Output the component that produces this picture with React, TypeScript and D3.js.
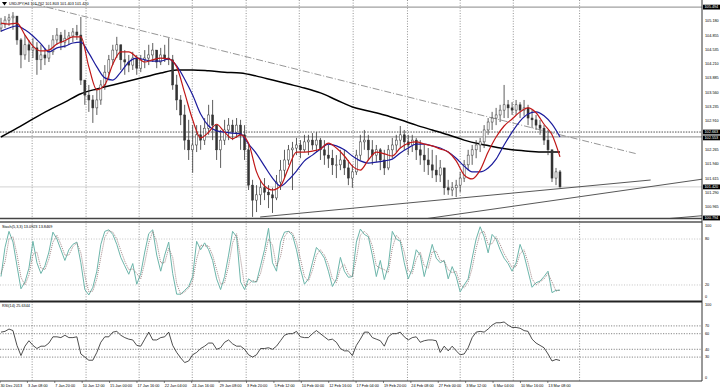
import * as d3 from 'd3'

// H4 bars, open of each bar = close of the bar before
const firstOpen = 105.02
const highs = [
  105.25, 105.29, 105.34, 105.38, 105.2, 104.79, 104.86, 104.75, 104.79, 104.7,
  104.64, 104.57, 104.64, 104.86, 105.02, 104.93, 104.98, 104.93, 105.02, 105.09,
  105.27, 103.84, 103.73, 103.5, 103.62, 103.84, 104.18, 104.41, 104.64, 104.82,
  104.64, 104.52, 104.41, 104.48, 104.41, 104.41, 104.52, 104.64, 104.68, 104.52,
  104.57, 104.64, 104.79, 104.41, 103.96, 103.5, 103.28, 102.94, 102.82, 102.82,
  102.82, 102.98, 103.28, 103.39, 102.82, 102.71, 102.94, 102.98, 102.94, 102.98,
  102.94, 102.82, 102.37, 101.58, 101.46, 101.58, 101.62, 101.46, 101.4, 101.69,
  102.03, 102.26, 102.37, 102.44, 102.53, 102.48, 102.6, 102.6, 102.64, 102.66,
  102.53, 102.48, 102.37, 102.26, 102.14, 102.26, 102.26, 102.03, 101.92, 102.26,
  102.6, 102.71, 102.6, 102.48, 102.37, 102.3, 102.26, 102.37, 102.53, 102.6,
  102.8, 102.71, 102.6, 102.6, 102.53, 102.48, 102.37, 102.3, 102.26, 102.14,
  102.03, 101.76, 101.58, 101.53, 101.58, 101.76, 102.03, 102.26, 102.37, 102.48,
  102.53, 102.82, 102.98, 103.12, 103.21, 103.28, 103.73, 103.39, 103.34, 103.39,
  103.34, 103.39, 103.28, 103.16, 103.05, 102.94, 102.82, 102.71, 102.26, 101.85,
  101.803,
]
const lows = [
  104.93, 105.02, 105.07, 104.98, 104.64, 104.11, 104.3, 104.25, 104.34, 103.96,
  104.07, 104.18, 104.25, 104.41, 104.64, 104.52, 104.57, 104.64, 104.7, 104.75,
  103.73, 103.28, 103.12, 102.87, 103.05, 103.28, 103.62, 103.84, 104.18, 104.34,
  104.07, 103.96, 104.02, 104.07, 103.96, 104.02, 104.11, 104.18, 104.25, 104.11,
  104.18, 104.25, 104.18, 103.62, 103.16, 102.82, 102.26, 102.03, 101.74, 102.21,
  102.26, 102.37, 102.6, 102.48, 102.03, 101.85, 102.37, 102.48, 102.48, 102.53,
  102.26, 102.03, 101.35, 100.74, 100.85, 101.01, 101.12, 100.94, 100.83, 101.12,
  101.35, 101.62, 101.92, 101.35, 102.14, 102.07, 102.21, 102.14, 102.26, 102.21,
  102.03, 101.92, 101.85, 101.69, 101.62, 101.8, 101.69, 101.46, 101.4, 101.69,
  102.03, 102.26, 102.03, 101.92, 101.98, 101.8, 101.69, 101.8, 102.07, 102.21,
  102.3, 102.26, 102.14, 102.21, 102.03, 101.92, 101.76, 101.69, 101.62, 101.53,
  101.53, 101.24, 101.24, 101.21, 101.19, 101.3, 101.53, 101.8, 101.92, 102.07,
  102.21, 102.3, 102.6, 102.71, 102.82, 102.89, 102.98, 102.98, 103.05, 103.05,
  102.98, 103.03, 102.82, 102.75, 102.71, 102.6, 102.37, 102.14, 101.53, 101.46,
  101.403,
]
const closes = [
  105.11, 105.2, 105.25, 105.29, 104.75, 104.41, 104.64, 104.52, 104.57, 104.3,
  104.41, 104.34, 104.48, 104.75, 104.86, 104.7, 104.79, 104.84, 104.93, 104.86,
  103.84, 103.5, 103.39, 103.21, 103.39, 103.73, 104.02, 104.3, 104.52, 104.64,
  104.3, 104.25, 104.18, 104.34, 104.11, 104.3, 104.34, 104.41, 104.52, 104.25,
  104.41, 104.34, 104.3, 103.73, 103.39, 103.05, 102.48, 102.26, 102.37, 102.6,
  102.48, 102.75, 103.05, 102.82, 102.26, 102.48, 102.71, 102.82, 102.66, 102.82,
  102.6, 102.26, 101.46, 101.12, 101.24, 101.4, 101.3, 101.24, 101.17, 101.53,
  101.8, 102.03, 102.26, 102.3, 102.37, 102.26, 102.44, 102.48, 102.37, 102.48,
  102.26, 102.14, 102.07, 101.92, 101.92, 102.03, 101.85, 101.62, 101.76, 102.14,
  102.44, 102.48, 102.26, 102.14, 102.26, 102.03, 101.85, 102.26, 102.37, 102.48,
  102.6, 102.44, 102.37, 102.48, 102.26, 102.14, 102.03, 101.92, 101.8, 101.69,
  101.85, 101.4, 101.35, 101.4, 101.46, 101.62, 101.92, 102.14, 102.26, 102.37,
  102.44, 102.71, 102.89, 102.98, 103.05, 103.16, 103.28, 103.21, 103.16, 103.28,
  103.16, 103.21, 102.98, 102.94, 102.82, 102.75, 102.48, 102.26, 101.62, 101.76,
  101.42,
]

// moving averages, one value every 2nd bar (fast, mid) and every 4th bar (slow)
const fastMa = [
  105.13, 105.11, 105.13, 104.86, 104.61, 104.5, 104.52, 104.66, 104.73, 104.82,
  104.82, 104.14, 103.62, 103.73, 104.2, 104.48, 104.48, 104.36, 104.25, 104.3,
  104.34, 104.32, 104.14, 103.55, 102.94, 102.53, 102.66, 102.84, 102.66, 102.51,
  102.6, 102.41, 101.76, 101.44, 101.35, 101.44, 101.85, 102.21, 102.21, 102.23,
  102.28, 102.41, 102.3, 102.12, 101.89, 101.8, 102.03, 102.21, 102.17, 102.12,
  102.3, 102.41, 102.44, 102.39, 102.35, 102.28, 102.21, 102.01, 101.69, 101.6,
  101.8, 102.21, 102.55, 102.8, 102.96, 103.12, 103.21, 103.1, 102.84, 102.6,
  102.1,
]
const midMa = [
  104.95, 105.02, 105.07, 104.98, 104.84, 104.66, 104.48, 104.57, 104.61, 104.68,
  104.7, 104.45, 104.14, 103.89, 103.84, 104.02, 104.25, 104.34, 104.3, 104.27,
  104.27, 104.32, 104.16, 103.86, 103.5, 103.07, 102.8, 102.69, 102.66, 102.64,
  102.62, 102.39, 102.17, 101.89, 101.62, 101.44, 101.58, 101.78, 102.01, 102.14,
  102.28, 102.39, 102.35, 102.26, 102.12, 102.01, 101.96, 101.98, 102.01, 102.05,
  102.19, 102.3, 102.39, 102.39, 102.35, 102.3, 102.21, 102.07, 101.89, 101.76,
  101.76, 101.85, 102.05, 102.37, 102.66, 102.91, 103.07, 103.12, 103.03, 102.84,
  102.55,
]
const slowMa = [
  102.55, 102.75, 102.96, 103.16, 103.34, 103.53, 103.64, 103.73, 103.82, 103.91,
  104.0, 104.07, 104.07, 104.05, 104.02, 104.0, 103.93, 103.84, 103.75, 103.66,
  103.55, 103.39, 103.23, 103.14, 103.05, 102.94, 102.82, 102.71, 102.6, 102.48,
  102.39, 102.32, 102.26, 102.23, 102.21, 102.21,
]

const stochMain = [
  31, 69, 90, 76, 45, 15, 24, 42, 77, 49, 35, 45, 63, 89, 80, 66, 52, 66, 73, 76,
  49, 14, 7, 17, 38, 73, 90, 92, 86, 73, 56, 45, 34, 48, 21, 35, 63, 87, 92, 59,
  38, 59, 76, 35, 8, 8, 13, 18, 31, 77, 66, 75, 66, 52, 28, 14, 31, 59, 90, 83,
  24, 14, 28, 24, 24, 45, 66, 94, 49, 38, 76, 89, 90, 85, 66, 41, 21, 28, 49, 69,
  63, 55, 38, 18, 28, 56, 38, 30, 31, 76, 93, 86, 83, 59, 31, 52, 27, 45, 90, 80,
  77, 49, 28, 41, 66, 59, 31, 52, 73, 55, 49, 52, 28, 44, 31, 11, 20, 28, 55, 80,
  96, 83, 62, 86, 80, 66, 55, 48, 38, 49, 73, 59, 38, 17, 23, 25, 31, 38, 10, 13,
  13.09,
]
const stochSignal = [
  35, 50, 80, 83, 60, 30, 20, 33, 60, 63, 42, 40, 54, 76, 85, 73, 59, 59, 70, 75,
  62, 32, 11, 12, 28, 56, 82, 91, 89, 80, 65, 51, 40, 41, 35, 28, 49, 75, 90, 76,
  49, 49, 68, 56, 22, 8, 11, 16, 25, 54, 72, 71, 71, 59, 40, 21, 23, 45, 75, 87,
  54, 19, 21, 26, 24, 35, 56, 80, 72, 44, 57, 83, 90, 88, 76, 54, 31, 25, 39, 59,
  66, 59, 47, 28, 23, 42, 47, 34, 31, 54, 85, 90, 85, 71, 45, 42, 40, 36, 68, 85,
  79, 63, 39, 35, 54, 63, 45, 42, 63, 64, 52, 51, 40, 36, 38, 21, 16, 24, 42, 68,
  88, 90, 73, 74, 83, 73, 61, 52, 43, 44, 61, 66, 49, 28, 20, 24, 28, 35, 24, 12,
  13.85,
]
const rsiValues = [
  62, 63, 66, 64, 45, 32, 44, 51, 45, 41, 44, 44, 48, 56, 56, 55, 58, 55, 55, 56,
  34, 30, 26, 26, 36, 49, 56, 56, 62, 63, 58, 55, 53, 52, 45, 44, 53, 62, 52, 52,
  55, 56, 62, 45, 36, 29, 23, 25, 33, 36, 41, 44, 48, 48, 40, 42, 49, 52, 47, 44,
  44, 40, 33, 30, 33, 41, 41, 42, 40, 44, 51, 58, 60, 60, 63, 56, 55, 55, 60, 64,
  60, 56, 52, 53, 49, 41, 38, 38, 32, 45, 53, 62, 62, 55, 53, 51, 44, 56, 60, 60,
  62, 56, 52, 55, 56, 49, 51, 52, 52, 51, 36, 44, 38, 44, 38, 33, 34, 42, 55, 62,
  63, 62, 66, 71, 74, 74, 75, 71, 68, 68, 67, 64, 63, 53, 48, 45, 42, 34, 25, 27,
  25.63,
]

const priceTicks = [105.18, 104.855, 104.535, 104.21, 103.885, 103.56, 103.235, 102.91, 102.265, 101.94, 101.615, 101.29, 100.965]
const stochLevels = [80, 20]
const stochTicks = [100, 80, 20, 0]
const rsiLevels = [70, 60, 40, 30]
const rsiTicks = [100, 70, 60, 40, 30, 0]
const dateLabels = [
  '30 Dec 2013', '3 Jan 08:00', '7 Jan 20:00', '10 Jan 12:00', '15 Jan 00:00', '17 Jan 16:00', '22 Jan 04:00',
  '24 Jan 16:00', '29 Jan 08:00', '3 Feb 20:00', '5 Feb 12:00', '10 Feb 00:00', '12 Feb 16:00', '17 Feb 04:00',
  '19 Feb 20:00', '24 Feb 08:00', '27 Feb 00:00', '3 Mar 12:00', '6 Mar 04:00', '10 Mar 16:00', '13 Mar 08:00',
]
const dateStep = 6.86
const gridBars = [7.8, 21.3, 34.6, 47.9, 61.4, 74.7, 88.2, 101.8, 115, 128.3, 144.9]

// drawn objects: horizontal lines and trend lines (bar index, price)
const hDotted = 102.663
const hSolid = 102.553
const topLine = 105.494
const bottomMark = 100.794
const bid = 101.42
const trendLines = [
  { b1: 8.5, p1: 105.56, b2: 159.4, p2: 102.165, dash: '7,2,1,2', color: '#8a8a8a' },
  { b1: 64.9, p1: 100.738, b2: 162.7, p2: 101.576, dash: null, color: '#444' },
  { b1: 100.7, p1: 100.625, b2: 176, p2: 101.6, dash: null, color: '#444' },
  { b1: 165.7, p1: 100.69, b2: 176, p2: 100.77, dash: null, color: '#444' },
]

const FONT = 'Liberation Sans, Arial, sans-serif'
const FS = 3.8
const AX = 702

export default function App() {
  const x = d3.scaleLinear().domain([0, 140]).range([1, 560])
  const yP = d3.scaleLinear().domain([100.704, 105.494]).range([218.5, 7.1])
  const yS = d3.scaleLinear().domain([0, 100]).range([300.3, 223.7])
  const yR = d3.scaleLinear().domain([0, 100]).range([380.5, 302.5])

  const maLine = (step: number) =>
    d3.line<number>().x((_, k) => x(k * step)).y((d) => yP(d)).curve(d3.curveMonotoneX)
  const oscLine = (y: d3.ScaleLinear<number, number>) =>
    d3.line<number>().x((_, k) => x(k)).y((d) => y(d))

  const candles = closes.map((c, i) => {
    const o = i ? closes[i - 1] : firstOpen
    return { i, o, c, h: Math.max(highs[i], o, c), l: Math.min(lows[i], o, c) }
  })

  const clamp = (v: number, lo: number, hi: number) => Math.max(lo, Math.min(hi, v))
  const box = (label: string, y: number) => (
    <g key={label}>
      <rect x={AX + 1} y={y - 2.4} width={17} height={4.8} fill="#000" />
      <text x={AX + 2.5} y={y} dy="0.35em" fill="#fff" fontSize={FS}>{label}</text>
    </g>
  )

  return (
    <svg width={720} height={388} style={{ position: 'absolute', left: 0, top: 0, background: '#fff' }}
      fontFamily={FONT}>
      <defs>
        <clipPath id="mainClip"><rect x={0} y={0} width={AX} height={218.5} /></clipPath>
      </defs>

      {/* vertical grid */}
      {gridBars.map((b) => (
        <line key={b} x1={x(b)} x2={x(b)} y1={0} y2={381} stroke="#777" strokeWidth={0.8} strokeDasharray="1,1.6" />
      ))}

      {/* main panel objects */}
      <g clipPath="url(#mainClip)">
        <line x1={0} x2={AX} y1={yP(topLine)} y2={yP(topLine)} stroke="#888" strokeWidth={1} />
        <line x1={0} x2={AX} y1={yP(hDotted)} y2={yP(hDotted)} stroke="#222" strokeWidth={0.8} strokeDasharray="1.5,1.2" />
        <line x1={0} x2={AX} y1={yP(hSolid)} y2={yP(hSolid)} stroke="#888" strokeWidth={1} />
        <line x1={0} x2={AX} y1={yP(bid)} y2={yP(bid)} stroke="#c8c8c8" strokeWidth={0.8} />
        {trendLines.map((t, k) => (
          <line key={k} x1={x(t.b1)} y1={yP(t.p1)} x2={x(t.b2)} y2={yP(t.p2)} stroke={t.color}
            strokeWidth={0.9} strokeDasharray={t.dash ?? undefined} />
        ))}
        <path d={maLine(4)(slowMa) ?? ''} fill="none" stroke="#000" strokeWidth={1.5} />
        {candles.map((d) => {
          const cx = x(d.i)
          const top = yP(Math.max(d.o, d.c))
          const bot = yP(Math.min(d.o, d.c))
          const up = d.c >= d.o
          return (
            <g key={d.i}>
              <line x1={cx} x2={cx} y1={yP(d.h)} y2={yP(d.l)} stroke="#333" strokeWidth={0.8} />
              <rect x={cx - 1} y={top} width={2} height={Math.max(0.6, bot - top)}
                fill={up ? '#fff' : '#333'} stroke="#333" strokeWidth={0.5} />
            </g>
          )
        })}
        <path d={maLine(2)(midMa) ?? ''} fill="none" stroke="#1c1c9c" strokeWidth={1.2} />
        <path d={maLine(2)(fastMa) ?? ''} fill="none" stroke="#c01818" strokeWidth={1.2} />
      </g>

      {/* panel borders */}
      <line x1={0} x2={AX} y1={218.5} y2={218.5} stroke="#444" strokeWidth={1.3} />
      <line x1={0} x2={AX} y1={222} y2={222} stroke="#555" strokeWidth={1.3} />
      <line x1={0} x2={AX} y1={301.5} y2={301.5} stroke="#222" strokeWidth={2} />
      <line x1={0} x2={AX} y1={381} y2={381} stroke="#333" strokeWidth={1} />
      <line x1={AX} x2={AX} y1={0} y2={381} stroke="#333" strokeWidth={1} />

      {/* stochastic */}
      {stochLevels.map((v) => (
        <line key={v} x1={0} x2={AX} y1={yS(v)} y2={yS(v)} stroke="#aaa" strokeWidth={0.7} strokeDasharray="1,1.6" />
      ))}
      <path d={oscLine(yS)(stochMain) ?? ''} fill="none" stroke="#6cb5aa" strokeWidth={1} />
      <path d={oscLine(yS)(stochSignal) ?? ''} fill="none" stroke="#8a6a6a" strokeWidth={0.8} strokeDasharray="1,1" />
      <text x={2} y={228} fontSize={FS} fill="#000">Stoch(5,3,3) 13.0923 13.8469</text>
      {stochTicks.map((v) => (
        <text key={v} x={AX + 3} y={clamp(yS(v), 226, 297)} dy="0.35em" fontSize={FS}>{v}</text>
      ))}

      {/* RSI */}
      {rsiLevels.map((v) => (
        <line key={v} x1={0} x2={AX} y1={yR(v)} y2={yR(v)} stroke="#555" strokeWidth={0.7} strokeDasharray="1.2,1.4" />
      ))}
      <path d={oscLine(yR)(rsiValues) ?? ''} fill="none" stroke="#222" strokeWidth={0.8} />
      <text x={2} y={307} fontSize={FS} fill="#000">RSI(14) 25.6344</text>
      {rsiTicks.map((v) => (
        <text key={v} x={AX + 3} y={clamp(yR(v), 305, 378)} dy="0.35em" fontSize={FS}>{v}</text>
      ))}

      {/* price axis */}
      {priceTicks.map((p) => (
        <text key={p} x={AX + 3} y={yP(p)} dy="0.35em" fontSize={FS}>{p.toFixed(3)}</text>
      ))}
      {box(topLine.toFixed(3), yP(topLine))}
      {box(hDotted.toFixed(3), yP(hDotted))}
      {box(hSolid.toFixed(3), yP(hSolid) + 1)}
      {box(bid.toFixed(3), yP(bid))}
      {box(bottomMark.toFixed(3), 218)}

      {/* time axis */}
      {dateLabels.map((s, k) => {
        const px = x(k * dateStep - 0.25)
        return (
          <g key={s}>
            <line x1={px} x2={px} y1={381} y2={383} stroke="#333" strokeWidth={0.6} />
            <text x={px + 0.5} y={387} fontSize={FS}>{s}</text>
          </g>
        )
      })}

      {/* title */}
      <path d="M2,2 L7,2 L4.5,5.5 Z" fill="#000" />
      <text x={9} y={5.2} fontSize={FS} fill="#000">USDJPY,H4 101.762 101.803 101.403 101.420</text>
    </svg>
  )
}
